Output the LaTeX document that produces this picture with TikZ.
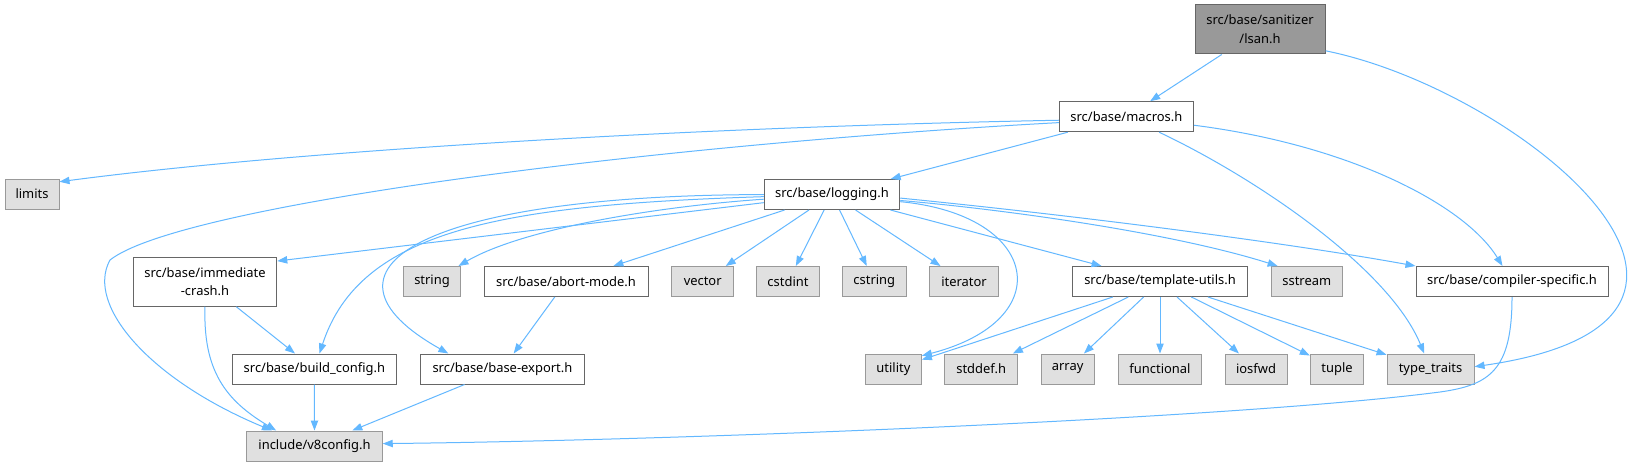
\documentclass[tikz,border=0pt]{standalone}
\usepackage{fontspec}
\setmainfont{Noto Sans}
\usetikzlibrary{arrows.meta}
\definecolor{edgeblue}{HTML}{63B8FF}
\definecolor{boxline}{HTML}{666666}
\definecolor{sysline}{HTML}{999999}
\definecolor{sysfill}{HTML}{E0E0E0}
\definecolor{rootfill}{HTML}{999999}
\begin{document}
\begin{tikzpicture}[x=0.75pt,y=-0.75pt,every node/.style={font=\fontsize{9.7}{14}\selectfont,inner xsep=2pt,inner ysep=0pt,minimum height=22.5pt,line width=0.75pt},
  bw/.style={minimum width=#1*0.75pt},
  hdrnode/.style={draw=boxline,fill=white},
  sysnode/.style={draw=sysline,fill=sysfill},
  rootnode/.style={draw=boxline,fill=rootfill,align=center,minimum height=36.75pt},
  dep/.style={draw=edgeblue,line width=0.75pt,-{Triangle[length=7.5pt,width=5.5pt]}}]
\path[use as bounding box,fill=white] (0,0) rectangle (1634,467);
% rows of headers
\node[rootnode,bw=130] (lsan) at (1260,29.5) {src/base/sanitizer\\/lsan.h};
\node[hdrnode,bw=134] (macros) at (1126.4,116.7) {src/base/macros.h};
\node[hdrnode,bw=135.5] (logging) at (832,194.5) {src/base/logging.h}; \node[sysnode,bw=54] (limits) at (32,194) {limits};
\node[hdrnode,bw=143.5,align=center,minimum height=36.75pt] (immcrash) at (205,281.75) {src/base/immediate\\-crash.h};
\node[sysnode,bw=57.5] (stdstring) at (432,281.5) {string}; \node[hdrnode,bw=164] (abortmode) at (566,281.5) {src/base/abort-mode.h};
\node[sysnode,bw=61.5] (vector) at (702.7,281.5) {vector}; \node[sysnode,bw=63] (cstdint) at (788,281.5) {cstdint};
\node[sysnode,bw=64] (cstring) at (874.3,281.5) {cstring}; \node[sysnode,bw=69] (iterator) at (964,281.5) {iterator};
\node[hdrnode,bw=174.6] (tmplutils) at (1160,281.5) {src/base/template-utils.h}; \node[sysnode,bw=70.5] (sstream) at (1306.8,281.5) {sstream};
\node[hdrnode,bw=192] (compspec) at (1512,281.5) {src/base/compiler-specific.h};
\node[hdrnode,bw=163.7] (buildcfg) at (314.4,369) {src/base/build\_config.h}; \node[hdrnode,bw=163.7] (baseexport) at (502.4,369) {src/base/base-export.h};
\node[sysnode,bw=56] (utility) at (893.4,369) {utility}; \node[sysnode,bw=73] (stddef) at (981.2,369) {stddef.h};
\node[sysnode,bw=53] (array) at (1067.6,369) {array}; \node[sysnode,bw=83] (functional) at (1160,369) {functional};
\node[sysnode,bw=62] (iosfwd) at (1256,369) {iosfwd}; \node[sysnode,bw=53.5] (tuple) at (1337,369) {tuple};
\node[sysnode,bw=87] (typetraits) at (1430.5,369) {type\_traits};
\node[sysnode,bw=135.5] (vconfig) at (314.5,446) {include/v8config.h};
% includes
\draw[dep] (lsan) -- (macros); \draw[dep] (lsan.-18) .. controls (1520,90) and (1800,320) .. (typetraits.3);
\draw[dep] (macros.183) .. controls (700,127) and (300,150) .. (limits.24);
\draw[dep] (macros.185) .. controls (650,145) and (180,205) .. (110,260) .. controls (85,305) and (150,380) .. (vconfig.160);
\draw[dep] (macros) -- (logging); \draw[dep] (macros) .. controls (1260,180) and (1390,270) .. (typetraits);
\draw[dep] (macros) .. controls (1350,145) and (1465,205) .. (compspec);
\draw[dep] (logging) -- (immcrash.16); \draw[dep] (logging) .. controls (500,205) and (360,230) .. (buildcfg);
\draw[dep] (logging) .. controls (420,195) and (300,270) .. (baseexport.164); \draw[dep] (logging) .. controls (650,207) and (520,230) .. (stdstring);
\draw[dep] (logging) -- (abortmode); \draw[dep] (logging) -- (vector); \draw[dep] (logging) -- (cstdint);
\draw[dep] (logging) -- (cstring); \draw[dep] (logging) -- (iterator); \draw[dep] (logging) -- (tmplutils);
\draw[dep] (logging.-6) .. controls (1040,215) and (1060,320) .. (utility.25);
\draw[dep] (logging.-5) .. controls (1000,209) and (1170,232) .. (sstream.152);
\draw[dep] (logging.-3) .. controls (1100,218) and (1300,245) .. (compspec.north west);
\draw[dep] (immcrash) -- (buildcfg); \draw[dep] (immcrash.south) .. controls (203,370) and (225,400) .. (vconfig.158);
\draw[dep] (abortmode) -- (baseexport); \draw[dep] (buildcfg) -- (vconfig); \draw[dep] (baseexport) -- (vconfig);
\draw[dep] (compspec.south) .. controls (1512,370) and (1490,385) .. (1440,392) .. controls (1240,418) and (700,440) .. (vconfig.2);
\draw[dep] (tmplutils) -- (utility); \draw[dep] (tmplutils) -- (stddef); \draw[dep] (tmplutils) -- (array); \draw[dep] (tmplutils) -- (functional);
\draw[dep] (tmplutils) -- (iosfwd); \draw[dep] (tmplutils) -- (tuple); \draw[dep] (tmplutils) -- (typetraits);
\end{tikzpicture}
\end{document}
